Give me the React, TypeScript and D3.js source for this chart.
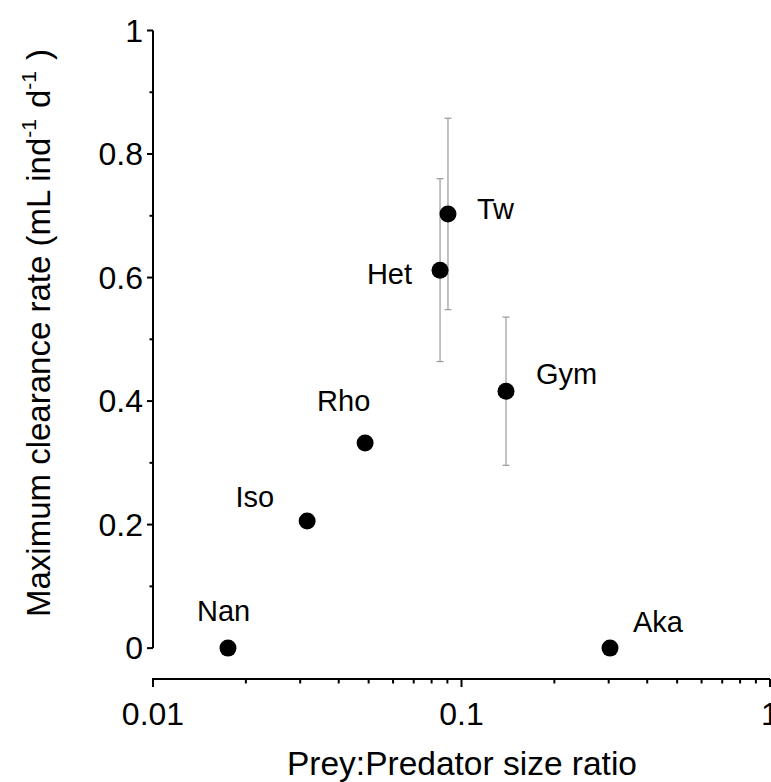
import React from "react";
import * as d3 from "d3";

// ---- data ----
const species = ["Nan", "Iso", "Rho", "Het", "Tw", "Gym", "Aka"];
const sizeRatio = [0.0175, 0.0316, 0.0487, 0.0852, 0.0904, 0.1394, 0.303];
const clearance = [0, 0.206, 0.332, 0.612, 0.703, 0.416, 0];
const errorSE = [0, 0, 0, 0.148, 0.155, 0.12, 0];
const xMajorTicks = [0.01, 0.1, 1];
const xTickLabels = ["0.01", "0.1", "1"];
const yMajorTicks = [0, 0.2, 0.4, 0.6, 0.8, 1];
const yTickLabels = ["0", "0.2", "0.4", "0.6", "0.8", "1"];
const yMinorTicks = [0.1, 0.3, 0.5, 0.7, 0.9];

// label placement (pixel offsets from point, styling only)
const labelOffsets: { dx: number; dy: number; anchor: string }[] = [
  { dx: -31, dy: -27, anchor: "start" },
  { dx: -33, dy: -14, anchor: "end" },
  { dx: -48, dy: -32, anchor: "start" },
  { dx: -28, dy: 14, anchor: "end" },
  { dx: 29, dy: 5, anchor: "start" },
  { dx: 30, dy: -7, anchor: "start" },
  { dx: 23, dy: -16, anchor: "start" },
];

const W = 771;
const H = 782;
const FONT = "'Liberation Sans', Arial, Helvetica, sans-serif";

export default function App() {
  const x = d3.scaleLog().domain([0.01, 1]).range([153, 770]);
  const y = d3.scaleLinear().domain([-0.05, 1]).range([679, 30.5]);
  const axisY = y(-0.05);
  const xMinor: number[] = [];
  for (const dec of [0.01, 0.1]) {
    for (let k = 2; k <= 9; k++) xMinor.push(dec * k);
  }

  return (
    <svg
      width={W}
      height={H}
      style={{ position: "absolute", left: 0, top: 0, background: "#fff" }}
      fontFamily={FONT}
    >
      <rect width={W} height={H} fill="#fff" />
      {/* Y axis */}
      <line x1={x(0.01)} x2={x(0.01)} y1={y(0)} y2={y(1)} stroke="#000" strokeWidth={2} />
      {yMajorTicks.map((t, i) => (
        <g key={"ym" + i}>
          <line x1={x(0.01) - 6} x2={x(0.01)} y1={y(t)} y2={y(t)} stroke="#000" strokeWidth={2} />
          <text x={143} y={y(t)} dy="0.35em" textAnchor="end" fontSize={32}>
            {yTickLabels[i]}
          </text>
        </g>
      ))}
      {yMinorTicks.map((t, i) => (
        <line key={"yn" + i} x1={x(0.01) - 3.5} x2={x(0.01)} y1={y(t)} y2={y(t)} stroke="#000" strokeWidth={2} />
      ))}
      {/* X axis */}
      <line x1={x(0.01) - 1} x2={x(1)} y1={axisY} y2={axisY} stroke="#000" strokeWidth={2} />
      {xMajorTicks.map((t, i) => (
        <g key={"xm" + i}>
          <line x1={x(t)} x2={x(t)} y1={axisY} y2={axisY + 8} stroke="#000" strokeWidth={2} />
          <text x={x(t)} y={725} textAnchor="middle" fontSize={32}>
            {xTickLabels[i]}
          </text>
        </g>
      ))}
      {xMinor.map((t, i) => (
        <line key={"xn" + i} x1={x(t)} x2={x(t)} y1={axisY} y2={axisY + 4.5} stroke="#000" strokeWidth={2} />
      ))}
      {/* axis titles */}
      <text x={462} y={775} textAnchor="middle" fontSize={33.5}>
        Prey:Predator size ratio
      </text>
      <text transform="translate(50,617) rotate(-90)" textAnchor="start" fontSize={33}>
        Maximum clearance rate (mL ind
        <tspan fontSize={21} dy={-14}>-1</tspan>
        <tspan fontSize={33} dy={14} dx={11}>d</tspan>
        <tspan fontSize={21} dy={-14}>-1</tspan>
        <tspan fontSize={33} dy={14} dx={11}>)</tspan>
      </text>
      {/* error bars */}
      {species.map((s, i) =>
        errorSE[i] > 0 ? (
          <g key={"e" + s} stroke="#999" strokeWidth={1.2}>
            <line x1={x(sizeRatio[i])} x2={x(sizeRatio[i])} y1={y(clearance[i] - errorSE[i])} y2={y(clearance[i] + errorSE[i])} />
            <line x1={x(sizeRatio[i]) - 3.5} x2={x(sizeRatio[i]) + 3.5} y1={y(clearance[i] + errorSE[i])} y2={y(clearance[i] + errorSE[i])} />
            <line x1={x(sizeRatio[i]) - 3.5} x2={x(sizeRatio[i]) + 3.5} y1={y(clearance[i] - errorSE[i])} y2={y(clearance[i] - errorSE[i])} />
          </g>
        ) : null
      )}
      {/* points */}
      {species.map((s, i) => (
        <circle key={"p" + s} cx={x(sizeRatio[i])} cy={y(clearance[i])} r={8.5} fill="#000" />
      ))}
      {/* labels */}
      {species.map((s, i) => (
        <text
          key={"l" + s}
          x={x(sizeRatio[i]) + labelOffsets[i].dx}
          y={y(clearance[i]) + labelOffsets[i].dy}
          textAnchor={labelOffsets[i].anchor}
          fontSize={29}
        >
          {s}
        </text>
      ))}
    </svg>
  );
}
